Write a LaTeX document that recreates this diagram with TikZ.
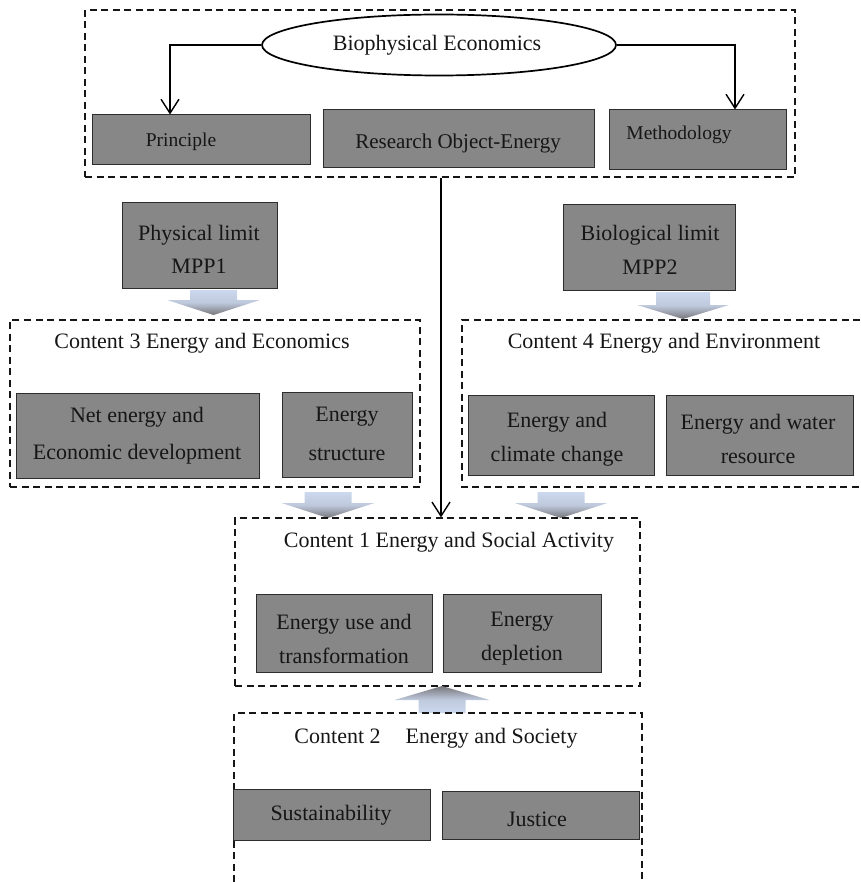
\documentclass[tikz,border=0pt]{standalone}
\usepackage{fontspec}
\setmainfont{Liberation Serif}
\usetikzlibrary{arrows.meta,shapes.geometric}

\definecolor{boxfill}{RGB}{135,135,135}
\definecolor{boxline}{RGB}{45,45,45}
\definecolor{inkc}{RGB}{22,22,22}
\definecolor{arrblue}{RGB}{204,216,238}
\definecolor{arrgray}{RGB}{118,118,122}

\tikzset{
  gbox/.style={draw=boxline, fill=boxfill, line width=1pt, inner sep=0pt},
  txt/.style={text=inkc, font=\fontsize{22}{34}\selectfont, align=center, inner sep=0pt},
  smalltxt/.style={txt, font=\fontsize{19.5}{30}\selectfont},
  frame/.style={draw=inkc, dash pattern=on 7pt off 4.5pt, line width=1.3pt, inner sep=0pt},
  link/.style={draw=black, line width=1.4pt,
    -{Straight Barb[length=14pt,width=18pt,line width=1.4pt]}},
  oval/.style={ellipse, draw=black, line width=1.7pt, fill=white, inner sep=0pt},
}

% block arrow pointing down: centre x, top y, shaft half width, head half width, shaft length, total length
\newcommand\downblock[6]{%
  \shade[top color=arrblue, bottom color=arrgray, middle color=arrblue!85!arrgray]
    (#1-#3,#2) -- (#1+#3,#2) -- (#1+#3,#2+#5) -- (#1+#4,#2+#5) -- (#1,#2+#6)
    -- (#1-#4,#2+#5) -- (#1-#3,#2+#5) -- cycle;}
% block arrow pointing up: centre x, tip y, shaft half width, head half width, head length, total length
\newcommand\upblock[6]{%
  \shade[bottom color=arrblue, top color=arrgray, middle color=arrblue!85!arrgray]
    (#1,#2) -- (#1+#4,#2+#5) -- (#1+#3,#2+#5) -- (#1+#3,#2+#6) -- (#1-#3,#2+#6)
    -- (#1-#3,#2+#5) -- (#1-#4,#2+#5) -- cycle;}

\begin{document}
\begin{tikzpicture}[x=1pt, y=-1pt]
\useasboundingbox (0,0) rectangle (860,882);

% ---- top group ----
\node[frame, minimum width=710pt, minimum height=167pt] (tf) at (440,93.5) {};
\node[oval, minimum width=354pt, minimum height=61pt] (bio) at (439,45) {};
\node[txt] (bioT) at (437,45) {Biophysical Economics};

\node[gbox, minimum width=218pt, minimum height=50pt] (pr) at (201,140) {};
\node[smalltxt] (prT) at (181,142) {Principle};
\node[gbox, minimum width=271pt, minimum height=58pt] (ro) at (458.5,139) {};
\node[txt, font=\fontsize{21}{30}\selectfont] (roT) at (458,143) {Research Object-Energy};
\node[gbox, minimum width=177pt, minimum height=60pt] (me) at (697.5,140) {};
\node[smalltxt] (meT) at (679,135) {Methodology};

\draw[link] (bio.west) -| ([xshift=-31pt]pr.north);
\draw[link] (bio.east) -| ([xshift=37.5pt]me.north);

% ---- limits ----
\node[gbox, minimum width=155pt, minimum height=85pt] (phys) at (199.5,245.5) {};
\node[txt, font=\fontsize{22}{33}\selectfont] (physT) at (199,249) {Physical limit\\MPP1};
\node[gbox, minimum width=172pt, minimum height=85pt] (biol) at (649,247.5) {};
\node[txt, font=\fontsize{22}{34}\selectfont] (biolT) at (650,250) {Biological limit\\MPP2};

\downblock{213.5}{290}{23.5}{46.5}{10}{25}
\downblock{683}{292}{27}{46}{13}{27}

% ---- content 3 ----
\node[frame, minimum width=410pt, minimum height=167pt] (c3) at (215,403.5) {};
\node[txt] (c3T) at (202,343) {Content 3 Energy and Economics};
\node[gbox, minimum width=243pt, minimum height=85pt] (net) at (137.5,435.5) {};
\node[txt, font=\fontsize{22}{37}\selectfont] (netT) at (137,436) {Net energy and\\Economic development};
\node[gbox, minimum width=130pt, minimum height=85pt] (est) at (347,434.5) {};
\node[txt, font=\fontsize{22}{39}\selectfont] (estT) at (347,434) {Energy\\structure};

% ---- content 4 ----
\coordinate (c4a) at (860,320);
\coordinate (c4b) at (462,320);
\coordinate (c4c) at (462,487);
\coordinate (c4d) at (860,487);
\draw[frame] (c4a) -- (c4b) -- (c4c) -- (c4d);
\node[txt] (c4T) at (664,343) {Content 4 Energy and Environment};
\node[gbox, minimum width=186pt, minimum height=80pt] (clim) at (561,435) {};
\node[txt] (climT) at (557,439) {Energy and\\climate change};
\node[gbox, minimum width=187pt, minimum height=80pt] (wat) at (759.5,435) {};
\node[txt] (watT) at (758,439) {Energy and water\\resource};

\downblock{328}{492}{23.5}{46.5}{11}{26}
\downblock{561}{492}{23.5}{46.5}{11}{26}

% ---- content 1 ----
\node[frame, minimum width=405pt, minimum height=168pt] (c1) at (437.5,602) {};
\node[txt] (c1T) at (449,542) {Content 1 Energy and Social Activity};
\node[gbox, minimum width=176pt, minimum height=78pt] (use) at (344,633) {};
\node[txt] (useT) at (344,639) {Energy use and\\transformation};
\node[gbox, minimum width=158pt, minimum height=78pt] (dep) at (522,633) {};
\node[txt] (depT) at (522,639) {Energy\\depletion};

\coordinate (vx) at (441,0);
\draw[link] (tf.south -| vx) -- (c1.north -| vx);

\upblock{442}{686}{23.5}{47.5}{14}{27}

% ---- content 2 ----
\coordinate (c2a) at (234,882);
\coordinate (c2b) at (234,713);
\coordinate (c2c) at (642,713);
\coordinate (c2d) at (642,882);
\draw[frame] (c2a) -- (c2b) -- (c2c) -- (c2d);
\node[txt] (c2T) at (436,738) {Content 2\hspace{25pt}Energy and Society};
\node[gbox, minimum width=197pt, minimum height=51pt] (sus) at (331.5,814.5) {};
\node[txt] (susT) at (331,815) {Sustainability};
\node[gbox, minimum width=197pt, minimum height=48pt] (jus) at (540.5,815) {};
\node[txt] (jusT) at (537,819) {Justice};
\end{tikzpicture}
\end{document}
